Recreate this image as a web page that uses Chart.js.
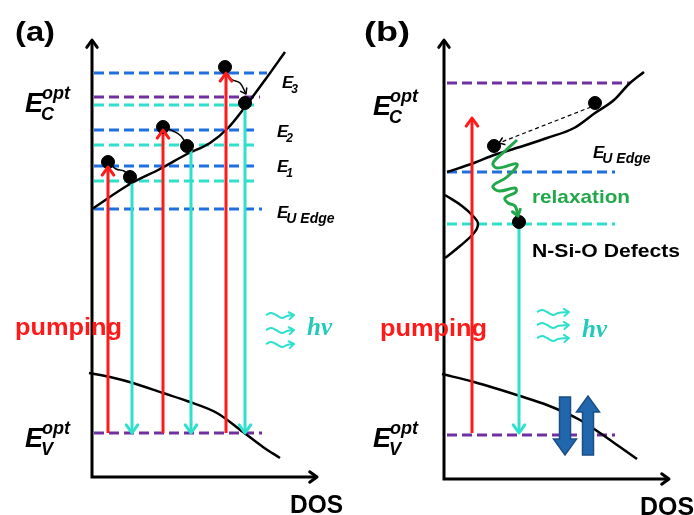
<!DOCTYPE html>
<html>
<head>
<meta charset="utf-8">
<script src="https://cdn.jsdelivr.net/npm/chart.js@4.4.1/dist/chart.umd.min.js"></script>
<style>
  html, body { margin: 0; padding: 0; background: #fff; }
  #c { display: block; }
</style>
</head>
<body>
<canvas id="c" width="694" height="515"></canvas>
<script>
// diagram units = pixels of the 694x515 figure (y grows downward)

// ---- panel (a) ----
const axesA = [[92, 40], [92, 477], [317, 477]];
const condA = [[92, 209], [130, 184], [160, 169], [187, 154], [210, 143], [228, 128], [245, 107], [265, 80], [285, 52]];
const valA = [[89, 373], [110, 377], [133, 383], [163, 393], [187, 401], [217, 413], [243, 432], [263, 447], [280, 458]];
const blueLevelsA = [[94, 267, 73], [94, 258, 130], [94, 258, 166], [94, 262, 209]];
const cyanLevelsA = [[94, 258, 105], [94, 258, 145], [94, 258, 181]];
const purpleLevelsA = [[94, 260, 97], [94, 262, 433]];
const pumpA = [[108, 433, 167], [163, 433, 130], [226, 433, 73]];
const emitA = [[132, 180, 433], [191, 149, 433], [245, 106, 433]];
const dotsA = [[108, 162], [130, 177], [163, 127], [187, 146], [225, 67], [245, 103]];
const hopsA = [
  [[108, 162], [116, 169], [124, 171], [130, 177]],
  [[163, 127], [173, 131], [181, 136], [187, 146]],
  [[225, 67], [231, 79], [240, 83], [246, 94]]
];
const wavesA = [
  [[266, 315], [271, 313], [276, 315], [282, 318], [287, 316], [294, 315]],
  [[266, 330], [271, 328], [276, 330], [282, 333], [287, 331], [294, 330]],
  [[266, 344], [271, 342], [276, 344], [282, 347], [287, 345], [294, 344]]
];

// ---- panel (b) ----
const axesB = [[444, 40], [444, 479], [669, 479]];
const condB = [[447, 172], [474, 163], [494, 155], [520, 147], [547, 138], [574, 128], [595, 113], [614, 100], [629, 84], [644, 72]];
const defectB = [[445, 195], [462, 206], [474, 217], [478, 224], [474, 233], [460, 246], [445, 258]];
const valB = [[442, 374], [474, 382], [520, 396], [547, 405], [580, 420], [600, 433], [620, 447], [637, 459]];
const blueLevelsB = [[447, 615, 172]];
const cyanLevelsB = [[447, 615, 224]];
const purpleLevelsB = [[447, 630, 83], [447, 615, 435]];
const pumpB = [[472, 433, 118]];
const emitB = [[519, 222, 433]];
const dotsB = [[595, 103], [494, 146], [519, 222]];
const hopB = [[591, 107], [499, 143]];
const relaxB = [[517, 140], [504, 152], [493, 163], [497, 168], [517, 164], [507, 177], [493, 186], [499, 191], [515, 188], [516, 192], [505, 198], [508, 203], [515, 206], [518, 216]];
const wavesB = [
  [[537, 312], [542, 310], [547, 312], [553, 315], [558, 313], [569, 312]],
  [[537, 325], [542, 323], [547, 325], [553, 328], [558, 326], [569, 325]],
  [[537, 338], [542, 336], [547, 338], [553, 341], [558, 339], [569, 338]]
];
// block arrows: [x centre, tail y, tip y]
const holeArrowsB = [[565, 397, 455], [588, 455, 396]];

// ---- text ----
const plainLabels = [
  ['(a)', 15, 41, 28, 40, '#000'],
  ['(b)', 364, 41, 28, 46, '#000'],
  ['DOS', 290, 513, 25, 53, '#000'],
  ['DOS', 640, 515, 25, 54, '#000'],
  ['pumping', 15, 335, 24, 107, '#ff1a1a'],
  ['pumping', 380, 336, 24, 107, '#ff1a1a'],
  ['relaxation', 532, 203, 19, 98, '#22a84a'],
  ['N-Si-O Defects', 532, 257, 18, 148, '#000']
];
// [main, sub, sup, x, baseline, main size, small size]
const energyLabels = [
  ['E', 'C', 'opt', 25, 112, 27, 18],
  ['E', 'V', 'opt', 25, 447, 27, 18],
  ['E', 'C', 'opt', 373, 115, 27, 18],
  ['E', 'V', 'opt', 373, 447, 27, 18],
  ['E', '3', '', 282, 88, 17, 12],
  ['E', '2', '', 277, 137, 17, 12],
  ['E', '1', '', 277, 172, 17, 12],
  ['E', 'U Edge', '', 277, 218, 17, 14],
  ['E', 'U Edge', '', 593, 158, 17, 14]
];
const hvLabels = [[307, 335], [582, 337]];

const BLUE = '#1f6fe0', CYAN = '#2fe0cc', PURPLE = '#7030a0', RED = '#ff1a1a', GREEN = '#22a84a';

const xy = pts => pts.map(p => ({ x: p[0], y: p[1] }));

const datasets = [];
function line(pts, color, width, extra) {
  datasets.push(Object.assign({
    data: xy(pts), showLine: true, borderColor: color, borderWidth: width,
    pointRadius: 0, tension: 0, clip: false, order: 5
  }, extra || {}));
}

[[blueLevelsA, BLUE], [cyanLevelsA, CYAN], [purpleLevelsA, PURPLE],
 [blueLevelsB, BLUE], [cyanLevelsB, CYAN], [purpleLevelsB, PURPLE]].forEach(([lv, c]) => {
  lv.forEach(l => line([[l[0], l[2]], [l[1], l[2]]], c, 3, { borderDash: [10, 5], order: 6 }));
});

[condA, valA, condB, valB].forEach(c => line(c, '#000', 2.5, { cubicInterpolationMode: 'monotone', order: 4 }));
line(defectB, '#000', 2.5, { tension: 0.4, order: 4 });

line(axesA, '#000', 3, { head: 9, headStart: 9, order: 3 });
line(axesB, '#000', 3, { head: 9, headStart: 9, order: 3 });

[...pumpA, ...pumpB].forEach(a => line([[a[0], a[1]], [a[0], a[2]]], RED, 3, { head: 10, order: 2 }));
[...emitA, ...emitB].forEach(a => line([[a[0], a[1]], [a[0], a[2]]], CYAN, 3, { head: 10, order: 2 }));

hopsA.forEach((h, i) => line(h, '#000', 1.5, { tension: 0.4, head: i === 2 ? 6 : 0, order: 1 }));
line(hopB, '#000', 1.2, { borderDash: [4, 3], head: 6, order: 1 });
line(relaxB, GREEN, 3, { tension: 0.4, head: 7, order: 1 });
[...wavesA, ...wavesB].forEach(w => line(w, CYAN, 2, { tension: 0.4, head: 6, order: 1 }));

datasets.push({
  data: xy([...dotsA, ...dotsB]), backgroundColor: '#000', borderColor: '#000',
  pointRadius: 6.5, showLine: false, clip: false, order: 0
});

const diagram = {
  id: 'diagram',
  afterDatasetsDraw(chart) {
    const { ctx, scales: { x, y } } = chart;
    const px = (a, b) => [x.getPixelForValue(a), y.getPixelForValue(b)];

    function chevron(from, to, len, color, width) {
      const ang = Math.atan2(to[1] - from[1], to[0] - from[0]);
      const s = 0.62;
      ctx.save();
      ctx.strokeStyle = color; ctx.lineWidth = width; ctx.setLineDash([]);
      ctx.lineCap = 'round'; ctx.lineJoin = 'round';
      ctx.beginPath();
      ctx.moveTo(to[0] - len * Math.cos(ang - s), to[1] - len * Math.sin(ang - s));
      ctx.lineTo(to[0], to[1]);
      ctx.lineTo(to[0] - len * Math.cos(ang + s), to[1] - len * Math.sin(ang + s));
      ctx.stroke();
      ctx.restore();
    }

    chart.data.datasets.forEach(ds => {
      const d = ds.data;
      if (ds.head) {
        const a = d[d.length - 2], b = d[d.length - 1];
        chevron(px(a.x, a.y), px(b.x, b.y), ds.head, ds.borderColor, Math.max(ds.borderWidth, 1.5));
      }
      if (ds.headStart) {
        chevron(px(d[1].x, d[1].y), px(d[0].x, d[0].y), ds.headStart, ds.borderColor, ds.borderWidth);
      }
    });

    // hole block arrows
    holeArrowsB.forEach(([cx, y0, y1]) => {
      const dir = Math.sign(y1 - y0);
      const bw = 5.5, hw = 11.5, hl = 16;
      const pts = [[cx - bw, y0], [cx - bw, y1 - dir * hl], [cx - hw, y1 - dir * hl], [cx, y1],
                   [cx + hw, y1 - dir * hl], [cx + bw, y1 - dir * hl], [cx + bw, y0]];
      ctx.save();
      ctx.beginPath();
      pts.forEach((p, i) => { const q = px(p[0], p[1]); i ? ctx.lineTo(q[0], q[1]) : ctx.moveTo(q[0], q[1]); });
      ctx.closePath();
      ctx.fillStyle = '#2067ae'; ctx.fill();
      ctx.strokeStyle = '#1a4e85'; ctx.lineWidth = 1.5; ctx.stroke();
      ctx.restore();
    });

    ctx.save();
    ctx.textBaseline = 'alphabetic';
    ctx.textAlign = 'left';
    plainLabels.forEach(([t, lx, ly, size, w, color]) => {
      ctx.font = `bold ${size}px "Liberation Sans", Arial, sans-serif`;
      const m = ctx.measureText(t).width;
      const [qx, qy] = px(lx, ly);
      ctx.save();
      ctx.translate(qx, qy);
      ctx.scale(w / m, 1);
      ctx.fillStyle = color;
      ctx.fillText(t, 0, 0);
      ctx.restore();
    });

    energyLabels.forEach(([main, sub, sup, lx, ly, big, small]) => {
      const [qx, qy] = px(lx, ly);
      ctx.fillStyle = '#000';
      ctx.font = `italic bold ${big}px "Liberation Sans", Arial, sans-serif`;
      ctx.fillText(main, qx, qy);
      const mw = ctx.measureText(main).width;
      ctx.font = `italic bold ${small}px "Liberation Sans", Arial, sans-serif`;
      if (sup) ctx.fillText(sup, qx + mw - 1, qy - big * 0.5);
      ctx.fillText(sub, qx + mw - 2, qy + big * 0.28);
    });

    hvLabels.forEach(([lx, ly]) => {
      const [qx, qy] = px(lx, ly);
      ctx.fillStyle = '#22cbb9';
      ctx.font = 'italic bold 25px "Liberation Serif", "DejaVu Serif", serif';
      ctx.fillText('hv', qx, qy);
    });
    ctx.restore();
  }
};

new Chart(document.getElementById('c').getContext('2d'), {
  type: 'scatter',
  data: { datasets: datasets },
  options: {
    responsive: false,
    animation: false,
    events: [],
    layout: { padding: 0, autoPadding: false },
    plugins: { legend: { display: false }, tooltip: { enabled: false } },
    scales: {
      x: { type: 'linear', min: 0, max: 694, display: false },
      y: { type: 'linear', min: 0, max: 515, reverse: true, display: false }
    }
  },
  plugins: [diagram]
});
</script>
</body>
</html>
